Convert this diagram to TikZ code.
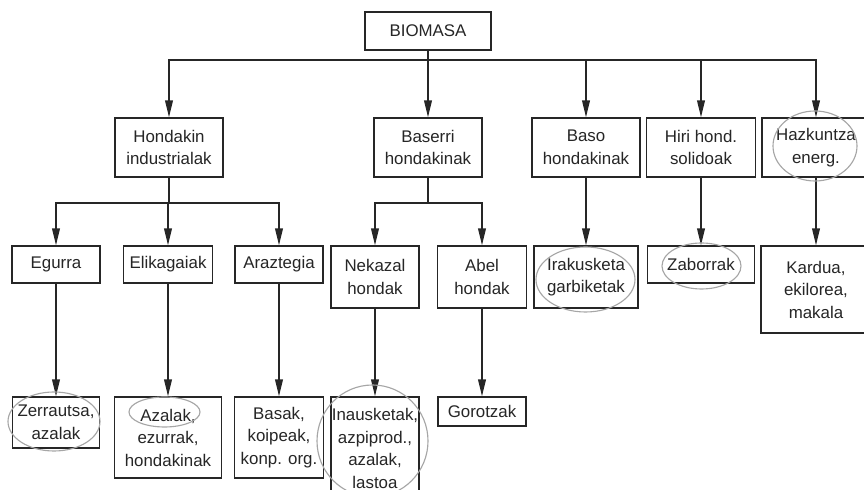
\documentclass[tikz,border=0pt]{standalone}
\usepackage{fontspec}
\setmainfont{Liberation Sans}
\usetikzlibrary{arrows.meta,positioning}

\begin{document}
\begin{tikzpicture}[
  x=0.025cm, y=-0.025cm,
  box/.style={draw=black!85, line width=1pt, fill=white, align=center, inner sep=0pt,
    text=black!85, font=\fontsize{12}{16}\selectfont},
  sz/.style 2 args={minimum width=#1*0.025cm, minimum height=#2*0.025cm},
  arr/.style={-{Triangle[length=12pt,width=5.5pt]}, line width=1pt, draw=black!85},
  ln/.style={line width=1pt, draw=black!85},
  hl/.style={draw=black!35, line width=0.8pt}
]
  \useasboundingbox (0,0) rectangle (864,490);
  \clip (0,0) rectangle (864,490);

  % level 1 and 2
  \node[box, sz={126}{38}] (bio) at (428,31) {BIOMASA};
  \node[box, sz={108}{59}] (hind) at (169,147.5) {Hondakin\\industrialak};
  \node[box, sz={108}{59}] (bas) at (428,147.5) {Baserri\\hondakinak};
  \node[box, sz={108}{59}] (baso) at (586,147.5) {Baso\\hondakinak};
  \node[box, sz={109}{59}] (hiri) at (701,147.5) {Hiri hond.\\solidoak};
  \node[box, sz={108}{59}] (hazk) at (816,147.5) {Hazkuntza\\energ.};

  % level 3
  \node[box, sz={88}{37}] (egu) at (56,264.5) {Egurra};
  \node[box, sz={89}{37}] (eli) at (168,264.5) {Elikagaiak};
  \node[box, sz={88}{37}] (ara) at (279,264.5) {Araztegia};
  \node[box, sz={88}{62}] (nek) at (375,277) {Nekazal\\hondak};
  \node[box, sz={89}{62}] (abe) at (482,277) {Abel\\hondak};
  \node[box, sz={104}{62}] (ira) at (586,277) {Irakusketa\\garbiketak};
  \node[box, sz={107}{37}] (zab) at (701,264.5) {Zaborrak};
  \node[box, sz={110}{87}] (kar) at (816,289.5) {Kardua,\\ekilorea,\\makala};

  % level 4
  \node[box, sz={87}{51}] (zer) at (56,422.5) {Zerrautsa,\\azalak};
  \node[box, sz={107}{81}] (aza) at (168,437.5) {Azalak,\\ezurrak,\\hondakinak};
  \node[box, sz={89}{81}] (bsk) at (279,437.5) {Basak,\\koipeak,\\konp. org.};
  \node[box, sz={88}{103}, text depth=0pt] (ina) at (375,448.5) {Inausketak,\\azpiprod.,\\azalak,\\lastoa};
  \node[box, sz={88}{29}] (gor) at (482,411.5) {Gorotzak};

  \draw[ln] (bio) -- ++(0,29) coordinate (j1);
  \draw[arr] (j1) -| (hind);
  \draw[arr] (j1) -- (bas);
  \draw[arr] (j1) -| (baso);
  \draw[arr] (j1) -| (hiri);
  \draw[arr] (j1) -| (hazk);

  \draw[ln] (hind) -- ++(0,55.5) coordinate (j2);
  \draw[arr] (j2) -| (egu);
  \draw[arr] (j2) -| (eli);
  \draw[arr] (j2) -| (ara);

  \draw[ln] (bas) -- ++(0,55.5) coordinate (j3);
  \draw[arr] (j3) -| (nek);
  \draw[arr] (j3) -| (abe);

  \draw[arr] (baso) -- (ira);
  \draw[arr] (hiri) -- (zab);
  \draw[arr] (hazk) -- (kar);
  \draw[arr] (egu) -- (zer);
  \draw[arr] (eli) -- (aza);
  \draw[arr] (ara) -- (bsk);
  \draw[arr] (nek) -- (ina);
  \draw[arr] (abe) -- (gor);

  % highlight rings
  \draw[hl] (zer.center) ++(-2,-1) ellipse [x radius=46, y radius=29.5];
  \draw[hl] (aza.center) ++(-3.5,-25.5) ellipse [x radius=35.5, y radius=15];
  \draw[hl] (ina.center) ++(-2.5,-7.5) ellipse [x radius=55.5, y radius=56];
  \draw[hl] (hazk.center) ++(-1,-1.5) ellipse [x radius=42, y radius=35];
  \draw[hl] (ira.center) ++(-0.5,2.5) ellipse [x radius=49.5, y radius=32.5];
  \draw[hl] (zab.center) ++(0.5,1.5) ellipse [x radius=39.5, y radius=23];
\end{tikzpicture}
\end{document}
